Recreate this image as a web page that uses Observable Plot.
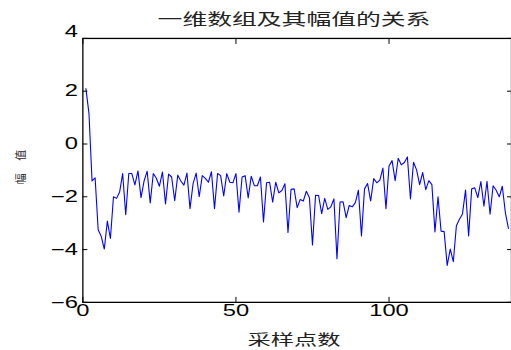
<!DOCTYPE html>
<html><head><meta charset="utf-8">
<script src="https://cdn.jsdelivr.net/npm/d3@7"></script>
<script src="https://cdn.jsdelivr.net/npm/@observablehq/plot@0.6"></script>
<style>
html,body{margin:0;padding:0;background:#fff;overflow:hidden;width:511px;height:350px;position:relative}
#title{height:30px;box-sizing:border-box;padding-top:6px;line-height:24px;text-align:center;padding-left:77px;font-family:"Noto Sans CJK SC",sans-serif;font-size:16px;color:#222;white-space:nowrap}
#chart{width:511px;height:300px}
#xlabel{height:20px;line-height:18px;text-align:center;padding-left:78px;font-family:"Noto Sans CJK SC",sans-serif;font-size:15px;color:#222;white-space:nowrap}
.sx{display:inline-block;transform:scaleX(1.55);transform-origin:center}
#ylabel{position:absolute;left:20px;top:167px;width:0;height:0}
#ylabel span{position:absolute;left:0;top:0;transform:translate(-50%,-50%) rotate(-90deg);font-family:"Noto Sans CJK SC",sans-serif;font-size:11px;line-height:11px;color:#222;white-space:pre;letter-spacing:5px;padding-left:5px}
</style>
</head><body>
<div id="title"><span class="sx"></span></div>
<div id="chart"></div>
<div id="xlabel"><span class="sx"></span></div>
<div id="ylabel"><span></span></div>
<script>
const titleText = "一维数组及其幅值的关系";
const xLabel = "采样点数";
const yLabel = "幅 值";
const xTicks = [0, 50, 100];
const yTicks = [-6, -4, -2, 0, 2, 4];
const amplitudes = [
  2.1, 1.15, -1.4, -1.28, -3.25, -3.5, -3.98, -2.92, -3.58, -2.0,
  -2.06, -1.82, -1.12, -2.68, -1.12, -1.12, -1.55, -1.02, -2.03, -1.4,
  -1.03, -2.23, -1.12, -1.3, -1.6, -1.06, -2.27, -1.14, -1.25, -2.15,
  -1.18, -1.4, -1.56, -1.1, -2.45, -1.5, -1.1, -2.0, -1.2, -1.3,
  -1.45, -1.05, -2.45, -1.12, -1.2, -1.97, -1.12, -1.45, -1.47, -1.12,
  -2.58, -1.25, -1.2, -2.04, -1.22, -1.58, -1.58, -1.25, -2.95, -1.47,
  -1.45, -2.2, -1.45, -1.85, -1.76, -1.51, -3.35, -1.72, -1.7, -2.41,
  -2.1, -2.16, -1.79, -2.04, -3.83, -1.94, -1.95, -2.64, -2.06, -2.48,
  -2.38, -2.08, -4.35, -2.2, -2.19, -2.79, -2.33, -2.38, -2.22, -1.75,
  -3.48, -1.7, -1.5, -2.16, -1.31, -1.47, -1.37, -0.91, -2.45, -0.83,
  -0.63, -1.39, -0.54, -0.79, -0.7, -0.49, -2.08, -0.69, -0.98, -1.54,
  -1.08, -1.73, -1.39, -1.54, -3.33, -2.0, -3.3, -3.32, -4.6, -3.98,
  -4.46, -3.1, -2.85, -2.65, -1.74, -3.48, -1.7, -1.66, -2.03, -1.42,
  -2.36, -1.41, -2.66, -1.58, -1.75, -2.0, -1.6, -2.6, -3.2
];
const data = amplitudes.map((v, k) => ({n: k + 1, v}));

document.querySelector("#title span").textContent = titleText;
document.querySelector("#xlabel span").textContent = xLabel;
document.querySelector("#ylabel span").textContent = yLabel;

const fontTick = {fontSize: 16.5, fontFamily: "Liberation Sans, Arial, sans-serif"};
const chart = Plot.plot({
  width: 515,
  height: 300,
  marginLeft: 83,
  marginRight: 0,
  marginTop: 8,
  marginBottom: 26,
  style: {background: "#fff", color: "#000", overflow: "visible"},
  x: {domain: [0, 140], ticks: xTicks},
  y: {domain: [-6, 4], ticks: yTicks},
  marks: [
    Plot.line(data, {x: "n", y: "v", stroke: "#0000ff", strokeWidth: 1.1, clip: true}),
    Plot.frame({stroke: "#000", strokeWidth: 1.3}),
    Plot.axisX({anchor: "bottom", ticks: xTicks, tickSize: -5, tickPadding: 7, label: null, ...fontTick}),
    Plot.axisX({anchor: "top", ticks: xTicks, tickSize: -5, tickFormat: () => "", label: null}),
    Plot.axisY({anchor: "left", ticks: yTicks, tickSize: -5, tickPadding: 10, label: null, ...fontTick}),
    Plot.axisY({anchor: "right", ticks: yTicks, tickSize: -5, tickFormat: () => "", label: null})
  ]
});
const svg = d3.select(chart);
svg.selectAll("[aria-label$='tick label'] text").each(function() {
  const t = this.getAttribute("transform") || "";
  const top = this.textContent === "4" && this.closest("[aria-label='y-axis tick label']");
  this.setAttribute("transform", (top ? "translate(0,-7) " : "") + t + " scale(1.45,1)");
});
document.getElementById("chart").appendChild(chart);
</script>
</body></html>
